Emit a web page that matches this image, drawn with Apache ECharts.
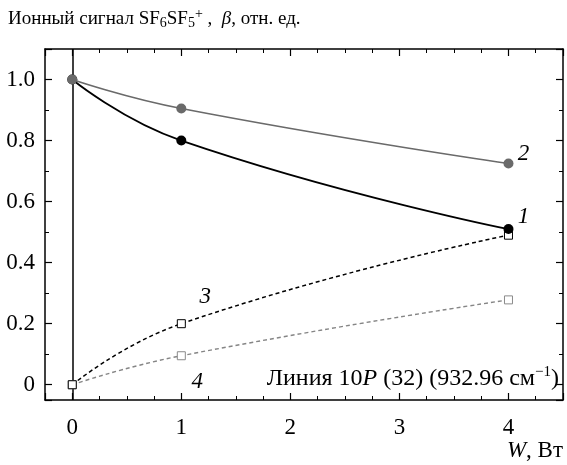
<!DOCTYPE html>
<html>
<head>
<meta charset="utf-8">
<script src="https://cdn.jsdelivr.net/npm/echarts@6/dist/echarts.min.js"></script>
<style>
html, body { margin: 0; padding: 0; background: #fff; }
#chart_container { width: 567px; height: 465px; }
</style>
</head>
<body>
<div id="chart_container"></div>
<script>
// мощность W, Вт
const powerW = [0, 1, 4]
// кривые 1–4, отн. ед.
const curve1 = [1.0, 0.8, 0.51]
const curve2 = [1.0, 0.905, 0.725]
const curve3 = [0, 0.2, 0.49]
const curve4 = [0, 0.095, 0.278]
const curveNames = ["1", "2", "3", "4"]

const serif = '"Liberation Serif", "DejaVu Serif", serif'
const gray = "#6a6a6a"
const lightGray = "#858585"

const pairs = (ys) => powerW.map((x, i) => [x, ys[i]])

// номер кривой у одной из точек
function withLabel(ys, idx, name, offset) {
	return pairs(ys).map((p, i) => {
		if (i !== idx) return p
		return {
			value: p,
			label: {
				show: true,
				formatter: name,
				position: "inside",
				offset: offset,
				fontFamily: serif,
				fontStyle: "italic",
				fontSize: 23,
				color: "#000",
			},
		}
	})
}

const axisCommon = {
	axisLine: { show: true, onZero: false, lineStyle: { color: "#000", width: 1.5 } },
	axisTick: { show: true, inside: true, length: 7, lineStyle: { color: "#000", width: 1.2 } },
	minorTick: { show: true, length: 4, lineStyle: { color: "#000", width: 1 } },
	splitLine: { show: false },
}

const textBase = { fontFamily: serif, fontSize: 23, fontStyle: "normal", fill: "#000" }

const chart = echarts.init(document.getElementById("chart_container"))
chart.setOption({
	animation: false,
	grid: { left: 45, right: 4, top: 49, bottom: 65 },
	xAxis: [
		{
			type: "value",
			min: -0.25,
			max: 4.5,
			splitNumber: 5,
			...axisCommon,
			minorTick: { ...axisCommon.minorTick, splitNumber: 4 },
			axisLabel: {
				showMinLabel: false,
				showMaxLabel: false,
				margin: 16,
				fontFamily: serif,
				fontSize: 23,
				color: "#000",
			},
		},
		{
			type: "value",
			position: "top",
			min: -0.25,
			max: 4.5,
			splitNumber: 5,
			...axisCommon,
			minorTick: { ...axisCommon.minorTick, splitNumber: 4 },
			axisLabel: { show: false },
		},
	],
	yAxis: [
		{
			type: "value",
			min: -0.05,
			max: 1.1,
			splitNumber: 5,
			...axisCommon,
			minorTick: { ...axisCommon.minorTick, splitNumber: 2 },
			axisLabel: {
				showMinLabel: false,
				showMaxLabel: false,
				margin: 10,
				fontFamily: serif,
				fontSize: 23,
				color: "#000",
				formatter: (v) => (v === 0 ? "0" : v.toFixed(1)),
			},
		},
		{
			type: "value",
			position: "right",
			min: -0.05,
			max: 1.1,
			splitNumber: 5,
			...axisCommon,
			minorTick: { ...axisCommon.minorTick, splitNumber: 2 },
			axisLabel: { show: false },
		},
	],
	series: [
		{
			name: curveNames[3],
			type: "line",
			smooth: true,
			data: withLabel(curve4, 1, curveNames[3], [16, 26]),
			symbol: "rect",
			symbolSize: 8,
			itemStyle: { color: "#fff", borderColor: "#8a8a8a", borderWidth: 1 },
			lineStyle: { color: lightGray, width: 1.4, type: [4, 3] },
			z: 3,
		},
		{
			name: curveNames[2],
			type: "line",
			smooth: true,
			data: withLabel(curve3, 1, curveNames[2], [24, -27]),
			symbol: "rect",
			symbolSize: 8,
			itemStyle: { color: "#fff", borderColor: "#000", borderWidth: 1 },
			lineStyle: { color: "#000", width: 1.5, type: [4, 3] },
			z: 3,
		},
		{
			name: curveNames[0],
			type: "line",
			smooth: true,
			data: withLabel(curve1, 2, curveNames[0], [15, -12]),
			symbol: "circle",
			symbolSize: 10,
			itemStyle: { color: "#000" },
			lineStyle: { color: "#000", width: 1.8 },
			z: 4,
			markLine: {
				silent: true,
				symbol: "none",
				label: { show: false },
				lineStyle: { color: "#000", width: 1.5, type: "solid" },
				data: [{ xAxis: 0 }],
				z: 1,
			},
		},
		{
			name: curveNames[1],
			type: "line",
			smooth: true,
			data: withLabel(curve2, 2, curveNames[1], [15, -10]),
			symbol: "circle",
			symbolSize: 10,
			itemStyle: { color: gray },
			lineStyle: { color: gray, width: 1.6 },
			z: 5,
		},
	],
	graphic: [
		{
			type: "text",
			left: 8,
			top: 7,
			style: {
				...textBase,
				fontSize: 19,
				text: "Ионный сигнал SF{sub|6}SF{sub|5}{sup|+} ,  {it|β}, отн. ед.",
				rich: {
					sub: { fontFamily: serif, fontSize: 14, padding: [9, 0, 0, 0] },
					sup: { fontFamily: serif, fontSize: 14, padding: [0, 0, 10, 0] },
					it: { fontFamily: serif, fontSize: 19, fontStyle: "italic" },
				},
			},
		},
		{
			type: "text",
			right: 8,
			top: 365,
			style: {
				...textBase,
				fontSize: 24,
				text: "Линия 10{it|P} (32) (932.96 см{sup|−1})",
				rich: {
					it: { fontFamily: serif, fontSize: 24, fontStyle: "italic" },
					sup: { fontFamily: serif, fontSize: 15, padding: [0, 0, 12, 0] },
				},
			},
		},
		{
			type: "text",
			right: 4,
			top: 439,
			style: {
				...textBase,
				text: "{it|W}, Вт",
				rich: {
					it: { fontFamily: serif, fontSize: 23, fontStyle: "italic" },
				},
			},
		},
	],
})
</script>
</body>
</html>
